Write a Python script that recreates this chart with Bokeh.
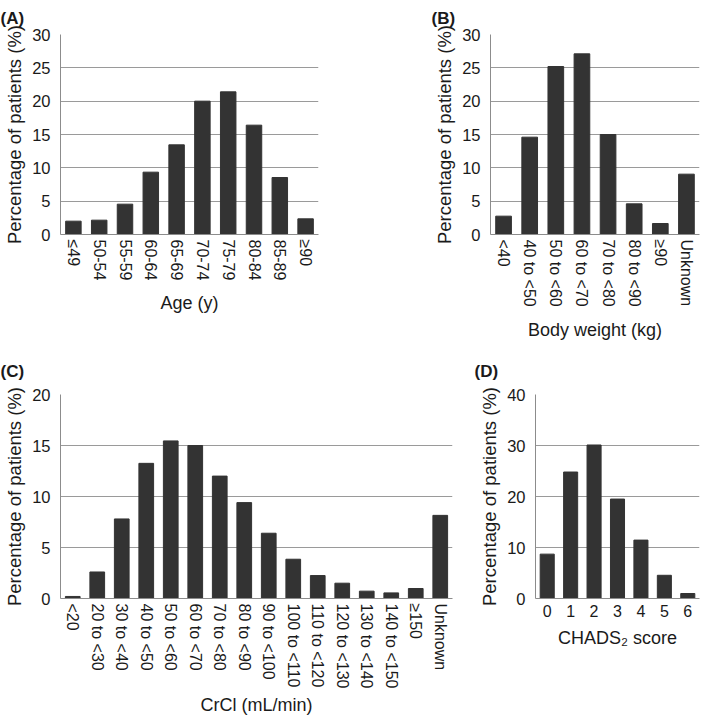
from bokeh.plotting import figure
from bokeh.models import ColumnDataSource, Range1d, FactorRange, FixedTicker, Title
from bokeh.layouts import row, column
from bokeh.embed import file_html
from bokeh.resources import INLINE

# ---- data ----
age_cats = ["≤49", "50-54", "55-59", "60-64", "65-69", "70-74", "75-79", "80-84", "85-89", "≥90"]
age_vals = [2.0, 2.15, 4.55, 9.35, 13.45, 20.0, 21.4, 16.4, 8.55, 2.35]

wt_cats = ["<40", "40 to <50", "50 to <60", "60 to <70", "70 to <80", "80 to <90", "≥90", "Unknown"]
wt_vals = [2.75, 14.6, 25.2, 27.1, 15.0, 4.6, 1.65, 9.05]

crcl_cats = ["<20", "20 to <30", "30 to <40", "40 to <50", "50 to <60", "60 to <70", "70 to <80",
             "80 to <90", "90 to <100", "100 to <110", "110 to <120", "120 to <130",
             "130 to <140", "140 to <150", "≥150", "Unknown"]
crcl_vals = [0.2, 2.6, 7.8, 13.25, 15.45, 15.0, 12.0, 9.4, 6.4, 3.85, 2.25, 1.5, 0.72, 0.55, 0.98, 8.15]

chads_cats = ["0", "1", "2", "3", "4", "5", "6"]
chads_vals = [8.7, 24.8, 30.1, 19.5, 11.45, 4.55, 0.98]

FONT = "Liberation Sans"
BAR = "#333333"
GRID = "#9a9a9a"
AXIS = "#8c8c8c"
TXT = "#1a1a1a"


def panel(label, cats, vals, ymax, ystep, xtitle, width, height, bl, br, bt, bb,
          toff, tstand, xlab_so, xtitle_so, vertical=True):
    p = figure(x_range=FactorRange(*cats), y_range=Range1d(0, ymax),
               width=width, height=height, output_backend="svg", toolbar_location=None,
               min_border_left=bl, min_border_right=br, min_border_top=bt, min_border_bottom=bb)
    src = ColumnDataSource(dict(cat=cats, val=vals))
    p.vbar(x="cat", top="val", width=0.6, source=src, fill_color=BAR, line_color=BAR)
    p.outline_line_color = None
    p.background_fill_color = "white"
    p.xgrid.grid_line_color = None
    p.ygrid.grid_line_color = GRID
    p.ygrid.grid_line_width = 1
    p.yaxis.ticker = FixedTicker(ticks=list(range(0, ymax + 1, ystep)))
    for ax in (p.xaxis[0], p.yaxis[0]):
        ax.axis_line_color = AXIS
        ax.major_tick_in = 0
        ax.major_tick_out = 0
        ax.minor_tick_in = 0
        ax.minor_tick_out = 0
        ax.major_label_text_font = FONT
        ax.major_label_text_color = TXT
        ax.axis_label_text_font = FONT
        ax.axis_label_text_font_style = "normal"
        ax.axis_label_text_color = TXT
    p.xaxis.major_label_text_font_size = "16px"
    p.yaxis.major_label_text_font_size = "16.5px"
    p.xaxis.axis_label_text_font_size = "18px"
    p.yaxis.axis_label_text_font_size = "18.5px"
    p.yaxis.axis_label = "Percentage of patients (%)"
    p.yaxis.major_label_standoff = 10
    p.yaxis.axis_label_standoff = 4
    p.xaxis.axis_label = xtitle
    p.xaxis.major_label_standoff = xlab_so
    p.xaxis.axis_label_standoff = xtitle_so
    if vertical:
        p.xaxis.major_label_orientation = "vertical"
    p.title = Title(text=label, align="left", offset=toff, standoff=tstand,
                    text_font=FONT, text_font_size="17px", text_font_style="bold",
                    text_color=TXT, text_line_height=0.8)
    return p


pA = panel("(A)", age_cats, age_vals, 30, 5, "Age (y)", 354, 342, 60, 36, 32, 106,
           -60, 13, 5, 10)
pB = panel("(B)", wt_cats, wt_vals, 30, 5, "Body weight (kg)", 347, 342, 136, 2, 32, 106,
           -59, 13, 5, 10)
pC = panel("(C)", crcl_cats, crcl_vals, 20, 5, "CrCl (mL/min)", 474, 376, 60, 22, 52, 119,
           -60, 27, 5, 4)
pD = panel("(D)", chads_cats, chads_vals, 40, 10, "CHADS₂ score", 227, 376, 61, 2, 52, 119,
           -61, 27, 6, 8, vertical=False)

layout = column(row(pA, pB), row(pC, pD))
open("out.html", "w").write(file_html(layout, INLINE))
